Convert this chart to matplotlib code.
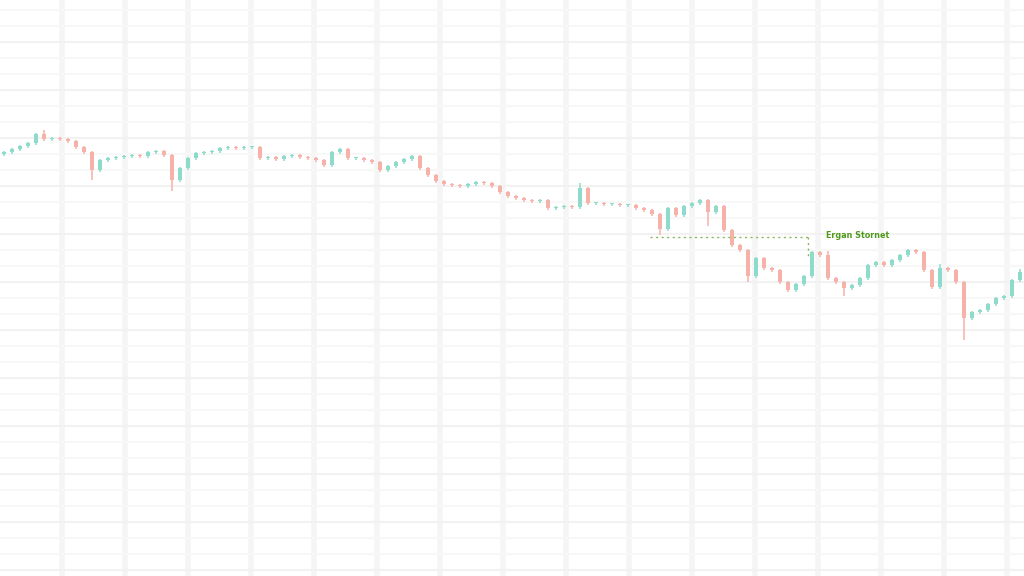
import numpy as np
import matplotlib.pyplot as plt

# closing prices (chart units, higher = up), one candle per slot
closes = [
    424, 427, 430, 433, 442, 437, 438, 437, 435, 429,
    424, 406, 416, 418, 419, 420, 421, 420, 424, 425,
    421, 396, 408, 418, 423, 424, 425, 428, 429, 428,
    429, 429, 418, 419, 417, 420, 421, 419, 418, 416,
    411, 424, 427, 418, 418, 416, 414, 406, 410, 414,
    417, 420, 408, 401, 395, 392, 391, 390, 392, 394,
    393, 390, 384, 380, 378, 376, 375, 376, 368, 369,
    370, 369, 388, 373, 373, 372, 372, 371, 371, 368,
    366, 362, 347, 368, 361, 370, 373, 376, 364, 370,
    346, 331, 326, 300, 318, 308, 306, 294, 286, 292,
    300, 324, 321, 298, 294, 288, 291, 298, 311, 314,
    311, 316, 321, 326, 324, 306, 289, 308, 306, 294,
    258, 264, 266, 272, 278, 280, 296, 304,
]
first_open = 422

# extra wick length for the candles that show long shadows
wick_down = {11: 8, 21: 9, 82: 4, 88: 12, 93: 4, 105: 6, 120: 20}
wick_up = {5: 3, 72: 4, 103: 3, 117: 3, 127: 2}

opens = [first_open] + closes[:-1]
n = len(closes)

up_color = "#8edbcb"
down_color = "#f6b2a8"

fig = plt.figure(figsize=(10.24, 5.76), dpi=100)
ax = fig.add_axes([0, 0, 1, 1])
ax.set_facecolor("white")

# faint background grid
for gx in np.arange(7.25, n, 7.875):
    ax.axvline(gx, color="#f5f5f5", lw=4, zorder=0)
for k, gy in enumerate(np.arange(6, 576, 16)):
    ax.axhline(gy, color="#f2f2f2" if k % 3 == 0 else "#f7f7f7", lw=1.5, zorder=0)

for i in range(n):
    o, c = opens[i], closes[i]
    col = up_color if c >= o else down_color
    hi = max(o, c) + 1.5 + wick_up.get(i, 0)
    lo = min(o, c) - 1.5 - wick_down.get(i, 0)
    ax.vlines(i, lo, hi, color=col, lw=1.1, zorder=2)
    h = abs(c - o)
    if h < 1.5:
        h = 1.5
    ax.bar(i, h, bottom=min(o, c), width=0.6, color=col, lw=0, zorder=3)

# annotation level
level = 339
ax.plot([80.75, 100.5], [level, level], color="#86b85a", lw=1.0, ls=(0, (1.5, 2.5)), zorder=4)
ax.plot([100.5, 100.5], [level, 318], color="#86b85a", lw=1.0, ls=(0, (1.5, 2.5)), zorder=4)
ax.text(102.7, level + 2, "Ergan Stornet", color="#4f9a1c", fontsize=5.8,
        fontweight="bold", va="center", ha="left", zorder=5)

ax.set_xlim(-0.5, n - 0.5)
ax.set_ylim(0, 576)
ax.axis("off")

fig.savefig("out.png", dpi=100)
